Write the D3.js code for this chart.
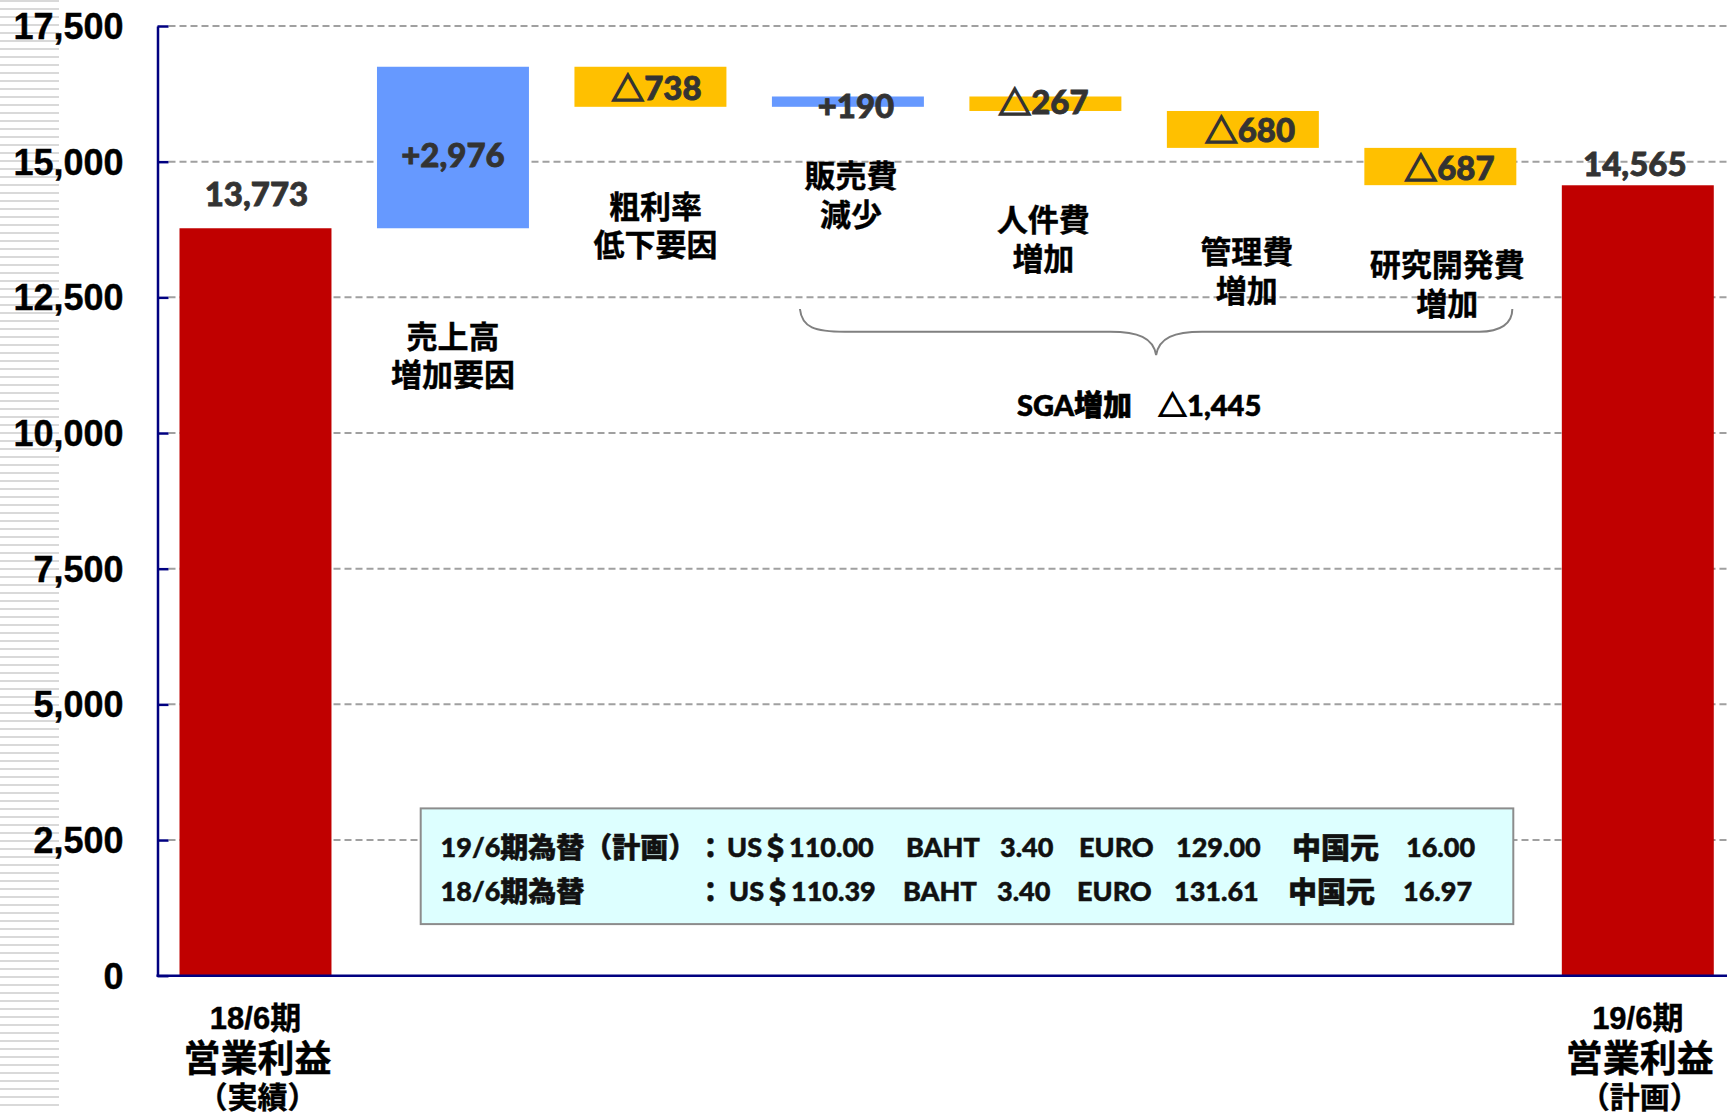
<!DOCTYPE html>
<html><head><meta charset="utf-8">
<script src="https://cdn.jsdelivr.net/npm/d3@7"></script>
<style>
html,body{margin:0;padding:0;background:#fff;}
svg{display:block;}
</style></head>
<body>
<svg id="chart" width="1727" height="1112"></svg>
<script>
// ---------------- DATA ----------------
const categories = ["18/6期営業利益","売上高増加要因","粗利率低下要因","販売費減少","人件費増加","管理費増加","研究開発費増加","19/6期営業利益"];
const values = [13773, 2976, -738, 190, -267, -680, -687, 14565];
const kinds = ["total","delta","delta","delta","delta","delta","delta","total"];
const valueLabels = ["13,773","+2,976","△738","+190","△267","△680","△687","14,565"];
const catLabelLines = [[],["売上高","増加要因"],["粗利率","低下要因"],["販売費","減少"],["人件費","増加"],["管理費","増加"],["研究開発費","増加"],[]];
const endLabelLines = [["18/6期","営業利益","（実績）"],["19/6期","営業利益","（計画）"]];
const yTicks = [0, 2500, 5000, 7500, 10000, 12500, 15000, 17500];
const sgaLabel = ["SGA増加", "△", "1,445"];
const rateRowLabels = [["19/6", "期為替（計画）"], ["18/6", "期為替"]];
const rateUSD = ["110.00", "110.39"];
const rateBAHT = ["3.40", "3.40"];
const rateEURO = ["129.00", "131.61"];
const rateCNY = ["16.00", "16.97"];

// ---------------- LAYOUT ----------------
const W = 1727, H = 1112;
const svg = d3.select("#chart");
const x = d3.scaleBand().domain(categories).range([179.5, 1713.8]).paddingInner(0.2304).paddingOuter(0);
const y = d3.scaleLinear().domain([0, 17500]).range([975.7, 26]);
const axisX = 157.5;
const colors = {total: "#C00000", up: "#6699FF", down: "#FFC000"};

// waterfall geometry from values
let running = 0;
const bars = categories.map((c, i) => {
  const v = values[i];
  let y0, y1, color;
  if (kinds[i] === "total") { y0 = 0; y1 = v; running = v; color = colors.total; }
  else { y0 = running; y1 = running + v; running = y1; color = v >= 0 ? colors.up : colors.down; }
  return {cat: c, v, lo: Math.min(y0, y1), hi: Math.max(y0, y1), color, label: valueLabels[i], kind: kinds[i]};
});

// left striped decoration
svg.append("g").selectAll("line").data(d3.range(1, H, 8)).join("line")
  .attr("x1", 0).attr("x2", 59).attr("y1", d => d).attr("y2", d => d)
  .attr("stroke", "#D9D9D9").attr("stroke-width", 2);

// gridlines
svg.append("g").selectAll("line").data(yTicks.filter(t => t > 0)).join("line")
  .attr("x1", axisX + 11).attr("x2", W).attr("y1", d => y(d)).attr("y2", d => y(d))
  .attr("stroke", "#A0A0A0").attr("stroke-width", 2).attr("stroke-dasharray", "7,4");

// exchange-rate box
const box = {x: 420.7, y: 808.4, w: 1092.6, h: 115.7};
svg.append("rect").attr("x", box.x).attr("y", box.y).attr("width", box.w).attr("height", box.h)
  .attr("fill", "#DDFFFF").attr("stroke", "#8C8C8C").attr("stroke-width", 2);

// bars
svg.append("g").selectAll("rect").data(bars).join("rect")
  .attr("x", d => x(d.cat)).attr("width", x.bandwidth())
  .attr("y", d => y(d.hi)).attr("height", d => y(d.lo) - y(d.hi))
  .attr("fill", d => d.color);

// y axis
const yAxis = d3.axisLeft(y).tickValues(yTicks).tickSizeInner(-11).tickSizeOuter(0).tickPadding(34)
  .tickFormat(d3.format(","));
const gy = svg.append("g").attr("transform", `translate(${axisX},0)`).call(yAxis);
gy.select(".domain").attr("stroke", "#000080").attr("stroke-width", 2.5);
gy.selectAll(".tick line").attr("stroke", "#000080").attr("stroke-width", 2.5);
gy.selectAll(".tick text").attr("fill", "#000").attr("font-family", "'Liberation Sans', Arial, sans-serif")
  .attr("font-weight", "bold").attr("font-size", 36).attr("dy", "0.35em")
  .attr("stroke", "#000").attr("stroke-width", 0.4);

// x baseline
svg.append("line").attr("x1", axisX - 1).attr("x2", W).attr("y1", y(0)).attr("y2", y(0))
  .attr("stroke", "#000080").attr("stroke-width", 2.5);

// helper: write text, splitting off the △ so it can be drawn heavier
const numFont = "Lato, 'Noto Sans CJK JP', sans-serif";
function writeWithTriangle(sel, str, color) {
  const parts = str.split(/(△)/).filter(s => s.length);
  parts.forEach(p => {
    const t = sel.append("tspan").text(p);
    if (p === "△") t.attr("font-family", "'Noto Sans CJK JP', sans-serif").attr("stroke-width", 1.6);
  });
}

// value labels
const labelPos = [
  {at: "top", dx: 1, dy: -35},
  {at: "mid", dx: 0, dy: 6},
  {at: "mid", dx: 6, dy: 0},
  {at: "mid", dx: 8, dy: 3},
  {at: "mid", dx: -2, dy: -3},
  {at: "mid", dx: 7, dy: 0},
  {at: "mid", dx: 9, dy: 0},
  {at: "top", dx: -3, dy: -22}
];
const vg = svg.append("g");
bars.forEach((d, i) => {
  const t = vg.append("text")
    .attr("x", x(d.cat) + x.bandwidth() / 2 + labelPos[i].dx)
    .attr("y", (labelPos[i].at === "top" ? y(d.hi) : (y(d.hi) + y(d.lo)) / 2) + labelPos[i].dy)
    .attr("text-anchor", "middle").attr("dominant-baseline", "central")
    .attr("font-family", numFont).attr("font-weight", 900).attr("font-size", 33)
    .attr("fill", "#333333").attr("stroke", "#333333").attr("stroke-width", 0.8);
  writeWithTriangle(t, d.label, "#333333");
});

// category labels below delta bars (one text per label, tspans per line)
const catFont = "'Noto Sans CJK JP', sans-serif";
const catPos = [null, {dx: 0, y: 333.7}, {dx: 5, y: 203.8}, {dx: 3, y: 173}, {dx: -2, y: 217}, {dx: 4, y: 249}, {dx: 7, y: 262}, null];
const catG = svg.append("g");
categories.forEach((c, i) => {
  if (!catPos[i]) return;
  const cx = x(c) + x.bandwidth() / 2 + catPos[i].dx;
  const t = catG.append("text").attr("x", cx).attr("y", catPos[i].y)
    .attr("text-anchor", "middle").attr("dominant-baseline", "central")
    .attr("font-family", catFont).attr("font-weight", "bold").attr("font-size", 31)
    .attr("fill", "#000").attr("stroke", "#000").attr("stroke-width", 0.4);
  catLabelLines[i].forEach((line, j) => {
    t.append("tspan").attr("x", cx).attr("dy", j === 0 ? 0 : 38.6).text(line);
  });
});

// brace spanning SGA items
const bx1 = x(categories[3]) + 28, bx2 = x(categories[6]) + x.bandwidth() - 4;
const bxm = (bx1 + bx2) / 2, byTop = 309, byMid = 331.7, byTip = 355;
const bracePath = [
  `M${bx1},${byTop}`,
  `C${bx1 + 2},${byMid - 4} ${bx1 + 15},${byMid} ${bx1 + 45},${byMid}`,
  `L${bxm - 46},${byMid}`,
  `C${bxm - 18},${byMid} ${bxm - 3},${byMid + 6} ${bxm},${byTip}`,
  `C${bxm + 3},${byMid + 6} ${bxm + 18},${byMid} ${bxm + 46},${byMid}`,
  `L${bx2 - 33},${byMid}`,
  `C${bx2 - 12},${byMid} ${bx2},${byMid - 8} ${bx2},${byTop}`
].join(" ");
svg.append("path").attr("d", bracePath).attr("fill", "none").attr("stroke", "#808080").attr("stroke-width", 2);

const sgaT = svg.append("text").attr("x", bxm - 17).attr("y", 404).attr("text-anchor", "middle").attr("dominant-baseline", "central")
  .attr("font-family", numFont).attr("font-weight", 900).attr("font-size", 29).attr("fill", "#000")
  .attr("stroke", "#000").attr("stroke-width", 0.6);
sgaT.append("tspan").text(sgaLabel[0]);
sgaT.append("tspan").attr("dx", 26).attr("font-family", catFont).attr("stroke-width", 1.4).text(sgaLabel[1]);
sgaT.append("tspan").text(sgaLabel[2]);

// end labels under total bars
const endFont = "'Liberation Sans', 'Noto Sans CJK JP', sans-serif";
const endIdx = [0, 7];
const endDx = [2, 2];
const endRows = [{dy: 0, size: 31, dx: -2}, {dy: 41, size: 37, dx: 0}, {dy: 38, size: 30, dx: 0}];
endIdx.forEach((ci, k) => {
  const cx = x(categories[ci]) + x.bandwidth() / 2 + endDx[k];
  const t = svg.append("text").attr("x", cx).attr("y", 1018)
    .attr("text-anchor", "middle").attr("dominant-baseline", "central")
    .attr("font-family", endFont).attr("font-weight", "bold").attr("fill", "#000")
    .attr("stroke", "#000").attr("stroke-width", 0.4);
  endLabelLines[k].forEach((line, j) => {
    t.append("tspan").attr("x", cx + endRows[j].dx).attr("dy", endRows[j].dy)
      .attr("font-size", endRows[j].size).text(line);
  });
});

// exchange-rate text
const latinFont = "Lato, sans-serif";
const rowY = [846, 890];
const cols = [
  {xs: [440.6, 440.6], parts: r => [[rateRowLabels[r][0], latinFont, 27], [rateRowLabels[r][1], catFont, 28]]},
  {xs: [697, 697], parts: r => [["：", catFont, 27]]},
  {xs: [727, 729], parts: r => [["US", latinFont, 27], ["＄", catFont, 27], [rateUSD[r], latinFont, 27]]},
  {xs: [906, 903], parts: r => [["BAHT", latinFont, 27]]},
  {xs: [1000, 997], parts: r => [[rateBAHT[r], latinFont, 27]]},
  {xs: [1079, 1077], parts: r => [["EURO", latinFont, 27]]},
  {xs: [1176, 1174], parts: r => [[rateEURO[r], latinFont, 27]]},
  {xs: [1292, 1288], parts: r => [["中国元", catFont, 29]]},
  {xs: [1406, 1403], parts: r => [[rateCNY[r], latinFont, 27]]}
];
const rateG = svg.append("g");
[0, 1].forEach(r => {
  cols.forEach(col => {
    const t = rateG.append("text").attr("x", col.xs[r]).attr("y", rowY[r]).attr("dominant-baseline", "central")
      .attr("font-weight", 900).attr("fill", "#111").attr("stroke", "#111").attr("stroke-width", 0.5);
    col.parts(r).forEach(p => t.append("tspan").attr("font-family", p[1]).attr("font-size", p[2]).text(p[0]));
  });
});
</script>
</body></html>
